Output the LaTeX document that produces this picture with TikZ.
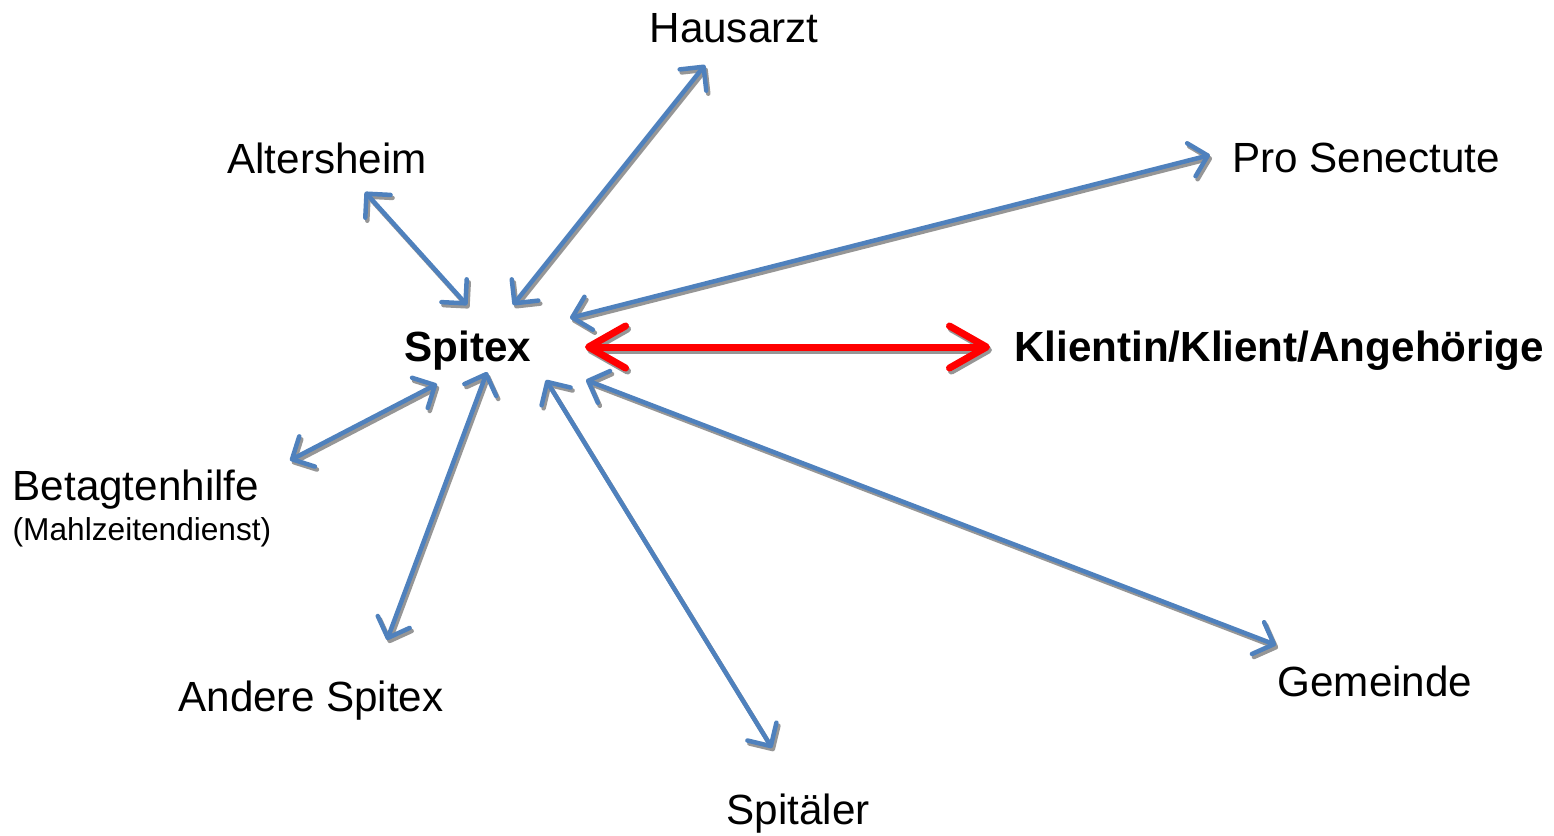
\documentclass[tikz,border=0pt]{standalone}
\usepackage{fontspec}
\setmainfont{Liberation Sans}
\usetikzlibrary{arrows.meta}

\definecolor{linkblue}{RGB}{79,129,189}
\definecolor{shade}{RGB}{150,150,150}

\begin{document}
\begin{tikzpicture}[x=0.01cm, y=-0.01cm,
  lab/.style = {font=\fontsize{12}{14}\selectfont, inner sep=0pt},
  mainlab/.style = {font=\bfseries\fontsize{12}{14}\selectfont, inner sep=0pt},
  link/.style = {draw=linkblue, line width=0.045cm, line cap=round, <->, >={Straight Barb[length=1.7mm, width=3.4mm, round]}},
  linkshade/.style = {link, draw=shade},
  main/.style = {draw=red, line width=0.07cm, line cap=round, <->, >={Straight Barb[length=3.7mm, width=4.2mm, round]}},
  mainshade/.style = {main, draw=shade}]

\useasboundingbox (0,0) rectangle (1554,835);

%% labels
\node[mainlab] (spitex) at (468,351) {Spitex};
\node[mainlab] (klient) at (1279,351) {Klientin/Klient/Angehörige};
\node[lab] (haus) at (734,28) {Hausarzt};
\node[lab] (alter) at (327,158) {Altersheim};
\node[lab] (pro) at (1366,158) {Pro Senectute};
\node[lab, align=left, anchor=north west, font=\fontsize{12}{11.4}\selectfont] (betagt) at (12,469)
  {Betagtenhilfe\\\fontsize{9}{11.4}\selectfont(Mahlzeitendienst)};
\node[lab] (andere) at (311,701) {Andere Spitex};
\node[lab] (spital) at (798,814) {Spitäler};
\node[lab] (gemeinde) at (1375,681) {Gemeinde};

%% links from Spitex
\foreach \tgt/\ex/\ey/\sx/\sy in {haus.center/-29/37/45/-46, alter.center/38/34/-1/-46,
    pro.center/-156/-3/102/-33, betagt.west/278/-48/-31/33, andere.center/76/-61/19/21,
    spital.center/-26/-66/78/29, gemeinde.center/-99/-36/118/29}{
  \draw[linkshade] ([shift={(\sx+2,\sy+3)}]spitex.center) -- ([shift={(\ex+2,\ey+3)}]\tgt);
  \draw[link] ([shift={(\sx,\sy)}]spitex.center) -- ([shift={(\ex,\ey)}]\tgt);
}

%% main link
\draw[mainshade] ([shift={(119,-1)}]spitex.center) -- ([shift={(-287,-1)}]klient.center);
\draw[main] ([shift={(117,-4)}]spitex.center) -- ([shift={(-289,-4)}]klient.center);

\end{tikzpicture}
\end{document}
